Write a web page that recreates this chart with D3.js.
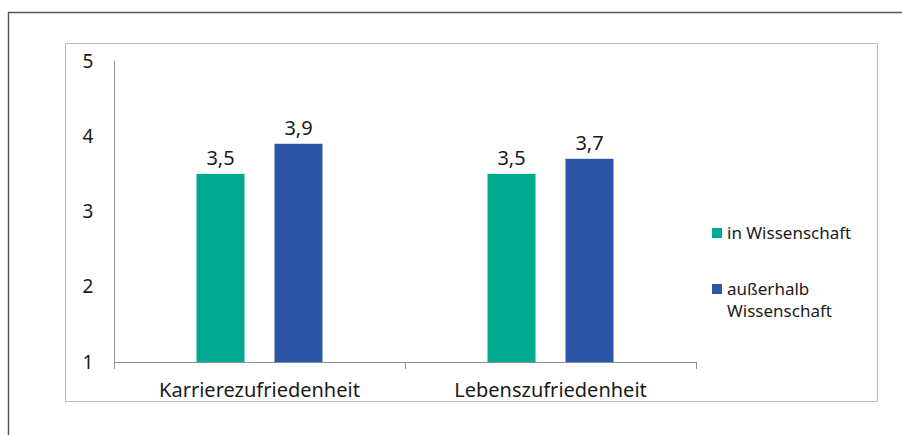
<!DOCTYPE html>
<html>
<head>
<meta charset="utf-8">
<script src="https://d3js.org/d3.v7.min.js"></script>
<style>
  body { margin: 0; background: #fff; }
  text { font-family: "Noto Sans", "Open Sans", sans-serif; fill: #1a1a1a; }
</style>
</head>
<body>
<svg id="chart"></svg>
<script>
// data
var categories = ["Karrierezufriedenheit", "Lebenszufriedenheit"];
var seriesNames = ["in Wissenschaft", "außerhalb Wissenschaft"];
var legendLines = [["in Wissenschaft"], ["außerhalb", "Wissenschaft"]];
var inWissenschaft = [3.5, 3.5];
var ausserhalbWissenschaft = [3.9, 3.7];
var yTicks = [1, 2, 3, 4, 5];
var colors = ["#00aa90", "#2d55a6"];

var width = 902, height = 435;
var svg = d3.select("#chart").attr("width", width).attr("height", height);

// outer frame
svg.append("rect")
    .attr("x", 8.5).attr("y", 12.5)
    .attr("width", 1000).attr("height", 1000)
    .attr("fill", "none").attr("stroke", "#555").attr("stroke-width", 1.5);

// inner frame
svg.append("rect")
    .attr("x", 65.5).attr("y", 43.5)
    .attr("width", 812).attr("height", 358)
    .attr("fill", "#fff").attr("stroke", "#bbb").attr("stroke-width", 1);

// scales
var x0 = d3.scaleBand().domain(categories).range([114, 696]);
var y = d3.scaleLinear().domain([1, 5]).range([362, 61]);

var rows = categories.map(function(c, i) {
    return {cat: c, values: [inWissenschaft[i], ausserhalbWissenschaft[i]]};
});

// y axis
svg.append("line")
    .attr("x1", 114.5).attr("x2", 114.5)
    .attr("y1", y(5)).attr("y2", y(1) + 7)
    .attr("stroke", "#8a9197");

svg.selectAll(".ylab")
    .data(yTicks)
    .enter()
    .append("text")
    .attr("x", 88)
    .attr("y", function(d) { return y(d); })
    .attr("dy", "0.35em")
    .attr("text-anchor", "middle")
    .attr("font-size", 19)
    .text(function(d) { return d; });

// x axis
svg.append("line")
    .attr("x1", 114).attr("x2", 696)
    .attr("y1", y(1) + 0.5).attr("y2", y(1) + 0.5)
    .attr("stroke", "#8a9197");

svg.selectAll(".xtick")
    .data([0, 1, 2])
    .enter()
    .append("line")
    .attr("x1", function(d) { return Math.round(114 + d * x0.bandwidth()) + 0.5; })
    .attr("x2", function(d) { return Math.round(114 + d * x0.bandwidth()) + 0.5; })
    .attr("y1", y(1)).attr("y2", y(1) + 7)
    .attr("stroke", "#8a9197");

svg.selectAll(".xlab")
    .data(categories)
    .enter()
    .append("text")
    .attr("x", function(d) { return x0(d) + x0.bandwidth() / 2; })
    .attr("y", 390)
    .attr("dy", "0.35em")
    .attr("text-anchor", "middle")
    .attr("font-size", 20)
    .text(function(d) { return d; });

// bars
var barW = 48, gap = 30;
var groups = svg.selectAll(".grp")
    .data(rows)
    .enter()
    .append("g")
    .attr("transform", function(d) {
        var c = x0(d.cat) + x0.bandwidth() / 2;
        return "translate(" + (c - barW - gap / 2) + ",0)";
    });

groups.selectAll("rect")
    .data(function(d) { return d.values; })
    .enter()
    .append("rect")
    .attr("x", function(d, i) { return i * (barW + gap); })
    .attr("y", function(d) { return y(d); })
    .attr("width", barW)
    .attr("height", function(d) { return y(1) - y(d); })
    .attr("fill", function(d, i) { return colors[i]; });

groups.selectAll(".val")
    .data(function(d) { return d.values; })
    .enter()
    .append("text")
    .attr("x", function(d, i) { return i * (barW + gap) + barW / 2; })
    .attr("y", function(d) { return y(d) - 16; })
    .attr("dy", "0.35em")
    .attr("text-anchor", "middle")
    .attr("font-size", 20)
    .text(function(d) { return String(d).replace(".", ","); });

// legend
var legend = svg.append("g");
var legendY = [233, 289];
seriesNames.forEach(function(name, i) {
    legend.append("rect")
        .attr("x", 712).attr("y", legendY[i] - 5)
        .attr("width", 10).attr("height", 10)
        .attr("fill", colors[i]);
    legendLines[i].forEach(function(line, j) {
        legend.append("text")
            .attr("x", 727).attr("y", legendY[i] + j * 22)
            .attr("dy", "0.35em")
            .attr("font-size", 17)
            .text(line);
    });
});
</script>
</body>
</html>
